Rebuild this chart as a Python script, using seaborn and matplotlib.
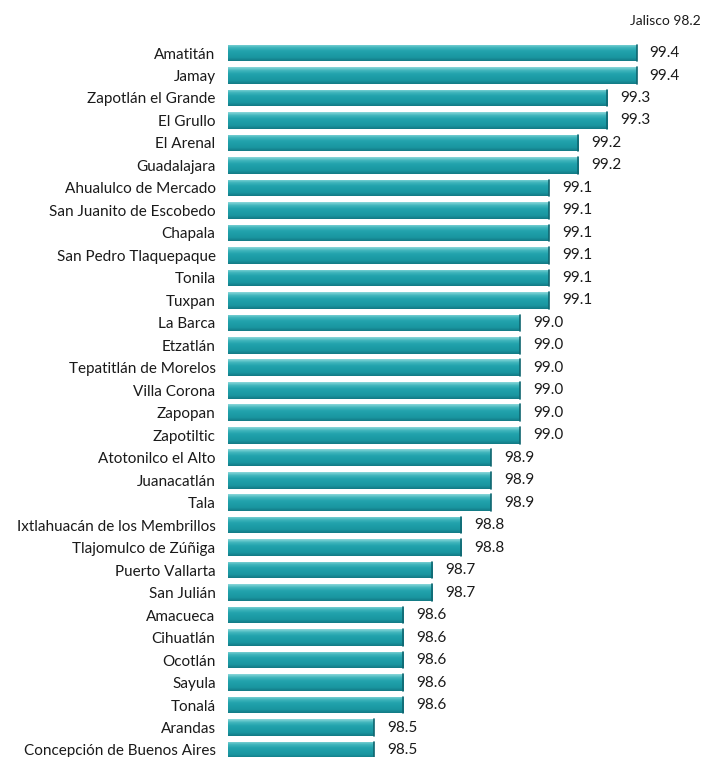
import numpy as np
import pandas as pd
import seaborn as sns
import matplotlib.pyplot as plt
from matplotlib.colors import LinearSegmentedColormap

municipios = [
    "Amatitán", "Jamay", "Zapotlán el Grande", "El Grullo", "El Arenal",
    "Guadalajara", "Ahualulco de Mercado", "San Juanito de Escobedo",
    "Chapala", "San Pedro Tlaquepaque", "Tonila", "Tuxpan", "La Barca",
    "Etzatlán", "Tepatitlán de Morelos", "Villa Corona", "Zapopan",
    "Zapotiltic", "Atotonilco el Alto", "Juanacatlán", "Tala",
    "Ixtlahuacán de los Membrillos", "Tlajomulco de Zúñiga",
    "Puerto Vallarta", "San Julián", "Amacueca", "Cihuatlán", "Ocotlán",
    "Sayula", "Tonalá", "Arandas", "Concepción de Buenos Aires",
]
valores = [
    99.4, 99.4, 99.3, 99.3, 99.2, 99.2, 99.1, 99.1, 99.1, 99.1, 99.1, 99.1,
    99.0, 99.0, 99.0, 99.0, 99.0, 99.0, 98.9, 98.9, 98.9, 98.8, 98.8,
    98.7, 98.7, 98.6, 98.6, 98.6, 98.6, 98.6, 98.5, 98.5,
]
jalisco = 98.2

df = pd.DataFrame({"Municipio": municipios, "Valor": valores})

sns.set_style("white")
plt.rcParams["font.family"] = ["Lato", "DejaVu Sans"]

fig = plt.figure(figsize=(7.04, 7.57), dpi=100)
ax = fig.add_axes([0.324, -0.0056, 0.663, 0.9504])

sns.barplot(data=df, x="Valor", y="Municipio", color="#1f9ea8",
            width=0.74, edgecolor="none", ax=ax)

xmin, xmax = 98.0, 99.6
ax.set_xlim(xmin, xmax)
ylim = ax.get_ylim()

# gradient shading like the original bars
cmap = LinearSegmentedColormap.from_list(
    "teal", ["#8ad8da", "#3fb5bc", "#22a3ad", "#1d9ca6", "#1a95a0", "#137a84"])
grad = np.linspace(0, 1, 64).reshape(-1, 1)
for p in list(ax.patches):
    x0 = xmin
    x1 = p.get_x() + p.get_width()
    y0 = p.get_y()
    y1 = y0 + p.get_height()
    im = ax.imshow(grad, cmap=cmap, aspect="auto", origin="upper",
                   extent=(x0, x1, y1, y0), zorder=3)
    im.set_clip_path(p)
    ax.plot([x1, x1], [y0, y1], color="#0f6670", lw=1.2, zorder=4)

ax.set_xlim(xmin, xmax)
ax.set_ylim(ylim)

for i, v in enumerate(valores):
    ax.text(v + 0.045, i, f"{v:.1f}", va="center", ha="left",
            fontsize=11, color="#1a1a1a")

ax.set_xlabel("")
ax.set_ylabel("")
ax.set_xticks([])
ax.tick_params(axis="y", length=0, pad=9, labelsize=11, labelcolor="#1a1a1a")
sns.despine(ax=ax, left=True, bottom=True)

fig.text(0.995, 0.972, f"Jalisco {jalisco:.1f}", ha="right", va="center",
         fontsize=10, color="#1a1a1a")

fig.savefig("out.png", dpi=100)
